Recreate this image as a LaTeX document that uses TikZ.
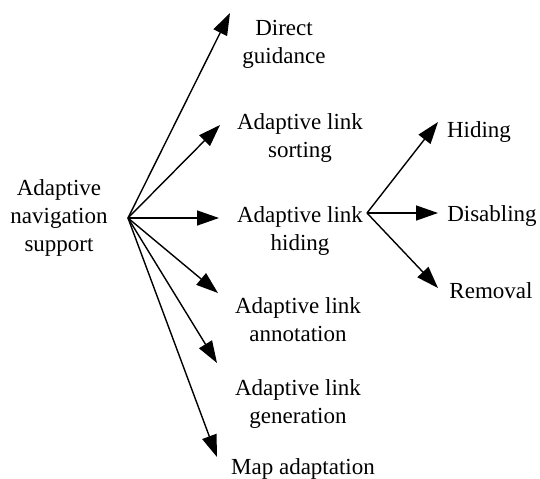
\documentclass[tikz,border=0pt]{standalone}
\usepackage{fontspec}
\setmainfont{Liberation Serif}
\usetikzlibrary{arrows.meta}
\begin{document}
\begin{tikzpicture}[x=0.5pt,y=-0.5pt,
  lbl/.style={inner sep=0pt,align=center,font=\fontsize{11.5}{14}\selectfont},
  arr/.style={line width=0.7pt,-{Triangle[length=11pt,width=7.5pt]}}]
\useasboundingbox (0,0) rectangle (540,478);
% text nodes
\node[lbl] (root) at (59,218) {Adaptive\\navigation\\support};
\node[lbl] (dg) at (284,44) {Direct\\guidance};
\node[lbl] (als) at (300,138) {Adaptive link\\sorting};
\node[lbl] (alh) at (300,231) {Adaptive link\\hiding};
\node[lbl] (ala) at (298,320) {Adaptive link\\annotation};
\node[lbl] (alg) at (298,404) {Adaptive link\\generation};
\node[lbl] (ma) at (303,469) {Map adaptation};
\node[lbl] (hid) at (479,132) {Hiding};
\node[lbl] (dis) at (492,216) {Disabling};
\node[lbl] (rem) at (491,291) {Removal};
% connector points
\coordinate (r) at (128,218);
\coordinate (h) at (367,213);
\coordinate (tdg) at (230,13);
\coordinate (tals) at (220,125);
\coordinate (talh) at (219,218);
\coordinate (tala) at (218,293);
\coordinate (talg) at (217,363);
\coordinate (tma) at (217,457);
\coordinate (thid) at (438,122);
\coordinate (tdis) at (438,213);
\coordinate (trem) at (438,288);
% connectors
\draw[arr] (r) -- (tdg);
\draw[arr] (r) -- (tals);
\draw[arr] (r) -- (talh);
\draw[arr] (r) -- (tala);
\draw[arr] (r) -- (talg);
\draw[arr] (r) -- (tma);
\draw[arr] (h) -- (thid);
\draw[arr] (h) -- (tdis);
\draw[arr] (h) -- (trem);
\end{tikzpicture}
\end{document}
